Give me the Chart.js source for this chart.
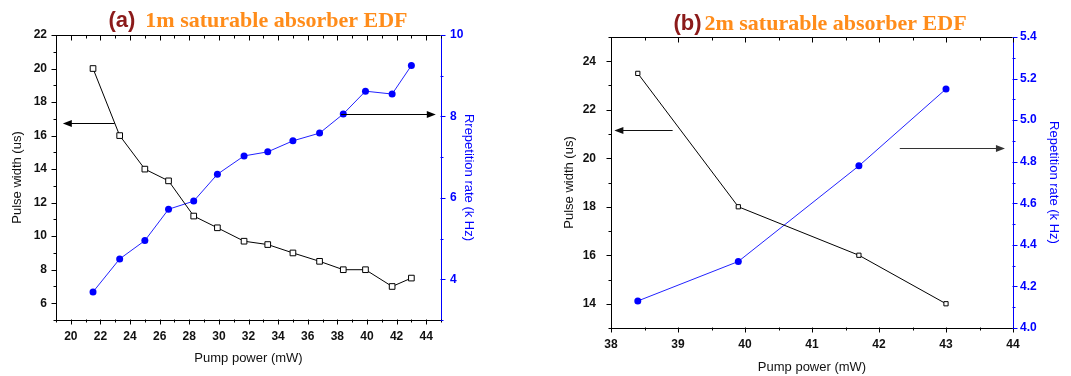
<!DOCTYPE html>
<html>
<head>
<meta charset="utf-8">
<script src="https://cdn.jsdelivr.net/npm/chart.js@4.4.1/dist/chart.umd.min.js"></script>
<style>
  body { margin: 0; background: #fff; }
  #wrap { position: relative; width: 1071px; height: 376px; }
  canvas { position: absolute; top: 0; }
</style>
</head>
<body>
<div id="wrap">
  <canvas id="chartA" width="490" height="376" style="left:0"></canvas>
  <canvas id="chartB" width="531" height="376" style="left:540px"></canvas>
</div>
<script>
// (a) 1m saturable absorber EDF
const powerA = [21.5, 23.3, 25, 26.6, 28.3, 29.9, 31.7, 33.3, 35, 36.8, 38.4, 39.9, 41.7, 43];
const widthA = [20, 16, 14, 13.3, 11.2, 10.5, 9.7, 9.5, 9.0, 8.5, 8.0, 8.0, 7.0, 7.5];
const rateA  = [3.69, 4.5, 4.95, 5.72, 5.92, 6.58, 7.03, 7.13, 7.4, 7.59, 8.06, 8.62, 8.55, 9.25];

// (b) 2m saturable absorber EDF
const powerB = [38.4, 39.9, 41.7, 43];
const widthB = [23.5, 18, 16, 14];
const rateB  = [4.13, 4.32, 4.78, 5.15];

// etiquetas de los ticks (los demás ticks son menores, sin texto)
const xLabelsA  = [20, 22, 24, 26, 28, 30, 32, 34, 36, 38, 40, 42, 44];
const yLabelsA  = [6, 8, 10, 12, 14, 16, 18, 20, 22];
const y1LabelsA = [4, 6, 8, 10];
const xLabelsB  = [38, 39, 40, 41, 42, 43, 44];
const yLabelsB  = [14, 16, 18, 20, 22, 24];
const y1LabelsB = [4.0, 4.2, 4.4, 4.6, 4.8, 5.0, 5.2, 5.4];

// flechas que indican el eje de cada serie (en unidades de datos)
const arrowsA = [
  { from: 22.96, to: 19.46, y: 16.75, axis: 'y', color: '#000' },
  { from: 38.25, to: 44.65, y: 8.06, axis: 'y1', color: '#000' }
];
const arrowsB = [
  { from: 38.92, to: 38.05, y: 21.17, axis: 'y', color: '#111' },
  { from: 42.31, to: 43.88, y: 4.866, axis: 'y1', color: '#333' }
];

const SANS = 'Arial, "Liberation Sans", sans-serif';
const SERIF = '"Times New Roman", "Liberation Serif", serif';
const BLUE = '#0000ff';

function pts(xs, ys) {
  return xs.map((x, i) => ({ x: x, y: ys[i] }));
}

function labelFn(list, dec) {
  return v => {
    const hit = list.find(l => Math.abs(l - v) < 1e-6);
    return hit === undefined ? '' : (dec ? hit.toFixed(dec) : String(hit));
  };
}

// ticks al estilo Origin: mayores largos, menores cortos, y espejo arriba
const originTicks = {
  id: 'originTicks',
  afterDraw(chart) {
    const ctx = chart.ctx;
    const a = chart.chartArea;
    const L = Math.round(a.left) + 0.5, R = Math.round(a.right) - 0.5;
    const T = Math.round(a.top) + 0.5, B = Math.round(a.bottom) - 0.5;
    ctx.save();
    ctx.lineWidth = 1;
    Object.values(chart.scales).forEach(s => {
      ctx.strokeStyle = s.options.border.color;
      ctx.beginPath();
      s.ticks.forEach(t => {
        const len = t.label !== '' ? 5 : 3;
        const p = Math.round(s.getPixelForValue(t.value)) + 0.5;
        if (s.axis === 'x') {
          ctx.moveTo(p, B); ctx.lineTo(p, B + len);
          ctx.moveTo(p, T); ctx.lineTo(p, T + len);
        } else if (s.position === 'left') {
          ctx.moveTo(L, p); ctx.lineTo(L - len, p);
        } else {
          ctx.moveTo(R, p); ctx.lineTo(R + len, p);
        }
      });
      ctx.stroke();
    });
    ctx.strokeStyle = '#000';
    ctx.beginPath();
    ctx.moveTo(L - 0.5, T); ctx.lineTo(R, T);
    ctx.stroke();
    ctx.restore();
  }
};

const arrowPlugin = {
  id: 'arrows',
  afterDatasetsDraw(chart, args, opts) {
    const ctx = chart.ctx;
    const x = chart.scales.x;
    (opts.list || []).forEach(ar => {
      const y = Math.round(chart.scales[ar.axis].getPixelForValue(ar.y)) + 0.5;
      const x1 = x.getPixelForValue(ar.from), x2 = x.getPixelForValue(ar.to);
      const dir = x2 > x1 ? 1 : -1;
      ctx.save();
      ctx.strokeStyle = ar.color; ctx.fillStyle = ar.color; ctx.lineWidth = 1;
      ctx.beginPath();
      ctx.moveTo(x1, y); ctx.lineTo(x2 - dir * 6, y);
      ctx.stroke();
      ctx.beginPath();
      ctx.moveTo(x2, y);
      ctx.lineTo(x2 - dir * 9, y - 3.5);
      ctx.lineTo(x2 - dir * 9, y + 3.5);
      ctx.closePath();
      ctx.fill();
      ctx.restore();
    });
  }
};

// título con dos partes de distinta fuente y color
const titlePlugin = {
  id: 'mixedTitle',
  afterDraw(chart, args, opts) {
    const ctx = chart.ctx;
    ctx.save();
    ctx.textBaseline = 'middle';
    ctx.textAlign = 'left';
    let total = opts.gap;
    opts.parts.forEach(p => { ctx.font = p.font; p.w = ctx.measureText(p.text).width; total += p.w; });
    let cx = opts.cx - total / 2;
    opts.parts.forEach((p, i) => {
      ctx.font = p.font; ctx.fillStyle = p.color;
      ctx.fillText(p.text, cx, opts.cy);
      cx += p.w + (i === 0 ? opts.gap : 0);
    });
    ctx.restore();
  }
};

function makeChart(id, cfg) {
  const tickFont = { family: SANS, size: 12, weight: 'bold' };
  const titleFont = { family: SANS, size: 13 };
  const grid = { drawOnChartArea: false, tickLength: 5, tickColor: 'rgba(0,0,0,0)' };
  return new Chart(document.getElementById(id), {
    type: 'line',
    data: {
      datasets: [
        {
          data: pts(cfg.power, cfg.width), yAxisID: 'y',
          borderColor: '#000', borderWidth: 1,
          pointStyle: 'rect', pointRadius: cfg.sq, pointBackgroundColor: '#fff',
          pointBorderColor: '#000', pointBorderWidth: 1
        },
        {
          data: pts(cfg.power, cfg.rate), yAxisID: 'y1',
          borderColor: '#2222ff', borderWidth: 1,
          pointStyle: 'circle', pointRadius: cfg.dot, pointBackgroundColor: BLUE,
          pointBorderColor: BLUE, pointBorderWidth: 0
        }
      ]
    },
    options: {
      responsive: false,
      animation: false,
      layout: { padding: { top: cfg.top, left: 0, right: 0, bottom: 0 } },
      plugins: {
        legend: { display: false },
        tooltip: { enabled: false },
        arrows: { list: cfg.arrows },
        mixedTitle: cfg.title
      },
      scales: {
        x: {
          type: 'linear', min: cfg.xMin, max: cfg.xMax,
          afterFit: s => { s.height = cfg.xH; },
          ticks: { stepSize: cfg.xStep, autoSkip: false, maxRotation: 0, padding: 4,
                   color: '#111', font: tickFont, callback: labelFn(cfg.xLabels) },
          grid: grid,
          border: { color: '#000', width: 1 },
          title: { display: true, text: 'Pump power (mW)', color: '#111', font: titleFont,
                   padding: { top: 0, bottom: cfg.xTitlePad } }
        },
        y: {
          position: 'left', min: cfg.yMin, max: cfg.yMax,
          afterFit: s => { s.width = cfg.yW; },
          ticks: { stepSize: 1, autoSkip: false, padding: cfg.yPad,
                   color: '#111', font: tickFont, callback: labelFn(cfg.yLabels) },
          grid: grid,
          border: { color: '#000', width: 1 },
          title: { display: true, text: 'Pulse width (us)', color: '#111', font: titleFont,
                   padding: { top: cfg.yTitlePad, bottom: 0 } }
        },
        y1: {
          position: 'right', min: cfg.y1Min, max: cfg.y1Max,
          afterFit: s => { s.width = cfg.y1W; },
          ticks: { stepSize: cfg.y1Step, autoSkip: false, padding: cfg.y1Pad,
                   color: BLUE, font: tickFont, callback: labelFn(cfg.y1Labels, cfg.y1Dec) },
          grid: grid,
          border: { color: BLUE, width: 1 },
          title: { display: true, text: cfg.y1Title, color: BLUE, font: titleFont,
                   padding: { top: cfg.y1TitlePad, bottom: 0 } }
        }
      }
    },
    plugins: [originTicks, arrowPlugin, titlePlugin]
  });
}

makeChart('chartA', {
  power: powerA, width: widthA, rate: rateA, sq: 4, dot: 3.5,
  top: 35, xH: 56, yW: 56, y1W: 49,
  xMin: 19, xMax: 45, xStep: 1, xLabels: xLabelsA, xTitlePad: 10,
  yMin: 5, yMax: 22, yLabels: yLabelsA, yPad: 4, yTitlePad: 10,
  y1Min: 3, y1Max: 10, y1Step: 1, y1Labels: y1LabelsA, y1Pad: 4, y1TitlePad: 14,
  y1Title: 'Rrepetition rate (k Hz)',
  arrows: arrowsA,
  title: {
    cx: 258, cy: 21, gap: 10,
    parts: [
      { text: '(a)', font: 'bold 22px ' + SANS, color: '#8b1a1a' },
      { text: '1m saturable absorber EDF', font: 'bold 22px ' + SERIF, color: '#ff8c1a' }
    ]
  }
});

makeChart('chartB', {
  power: powerB, width: widthB, rate: rateB, sq: 3, dot: 3.5,
  top: 37, xH: 48, yW: 71, y1W: 58,
  xMin: 38, xMax: 44, xStep: 0.5, xLabels: xLabelsB, xTitlePad: 1,
  yMin: 13, yMax: 25, yLabels: yLabelsB, yPad: 10, yTitlePad: 22,
  y1Min: 4.0, y1Max: 5.4, y1Step: 0.1, y1Labels: y1LabelsB, y1Dec: 1, y1Pad: 2, y1TitlePad: 10,
  y1Title: 'Repetition rate (k Hz)',
  arrows: arrowsB,
  title: {
    cx: 280, cy: 24, gap: 3,
    parts: [
      { text: '(b)', font: 'bold 22px ' + SANS, color: '#8b1a1a' },
      { text: '2m saturable absorber EDF', font: 'bold 22px ' + SERIF, color: '#ff8c1a' }
    ]
  }
});
</script>
</body>
</html>
